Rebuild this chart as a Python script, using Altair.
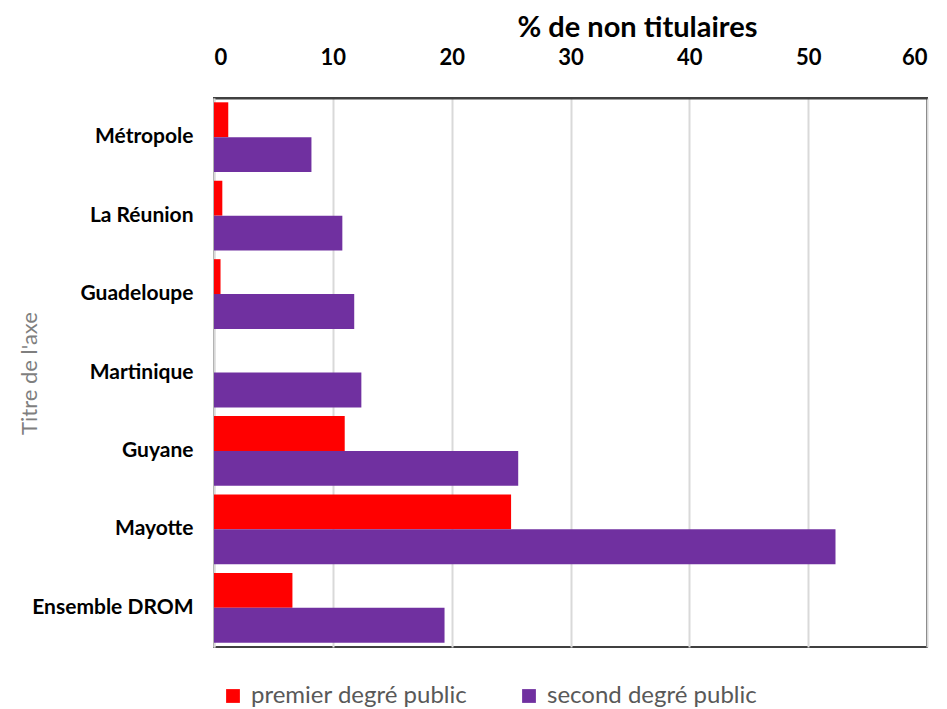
import altair as alt
import pandas as pd

categories = ["Métropole", "La Réunion", "Guadeloupe", "Martinique", "Guyane", "Mayotte", "Ensemble DROM"]
series_names = ["premier degré public", "second degré public"]
premier = [1.2, 0.7, 0.55, 0.0, 11.0, 25.0, 6.6]
second = [8.2, 10.8, 11.8, 12.4, 25.6, 52.3, 19.4]
x_ticks = [0, 10, 20, 30, 40, 50, 60]

rows = []
for c, p, s in zip(categories, premier, second):
    rows.append({"zone": c, "serie": series_names[0], "valeur": p})
    rows.append({"zone": c, "serie": series_names[1], "valeur": s})
df = pd.DataFrame(rows)

FONT = "Lato"

bars = alt.Chart(df).mark_bar().encode(
    x=alt.X(
        "valeur:Q",
        scale=alt.Scale(domain=[0, 60], nice=False, zero=True),
        axis=alt.Axis(
            orient="top",
            values=x_ticks,
            title="% de non titulaires",
            titleFont=FONT,
            titleFontSize=29,
            titleFontWeight="bold",
            titleColor="#000000",
            titleX=423,
            titleY=-62,
            titleAlign="center",
            titleBaseline="alphabetic",
            labelFont=FONT,
            labelFontSize=22,
            labelFontWeight="bold",
            labelColor="#000000",
            labelPadding=29,
            ticks=False,
            domain=True,
            domainColor="#404040",
            domainWidth=2,
            grid=True,
            gridColor="#d9d9d9",
            gridWidth=2,
        ),
    ),
    y=alt.Y(
        "zone:N",
        sort=categories,
        scale=alt.Scale(paddingInner=0.11, paddingOuter=0.055),
        axis=alt.Axis(
            title="Titre de l'axe",
            titleFont=FONT,
            titleFontSize=22,
            titleFontWeight="normal",
            titleColor="#7f7f7f",
            titleAngle=270,
            titleX=-185,
            titleY=275,
            titleAlign="center",
            titleBaseline="middle",
            labelFont=FONT,
            labelFontSize=21,
            labelFontWeight="bold",
            labelColor="#000000",
            labelPadding=21,
            labelLimit=300,
            ticks=False,
            domain=True,
            domainColor="#d9d9d9",
            domainWidth=2,
        ),
    ),
    yOffset=alt.YOffset("serie:N", sort=series_names),
    color=alt.Color(
        "serie:N",
        sort=series_names,
        scale=alt.Scale(domain=series_names, range=["#ff0000", "#7030a0"]),
        legend=alt.Legend(
            title=None,
            orient="none",
            direction="horizontal",
            legendX=7,
            legendY=586,
            symbolType="square",
            symbolSize=190,
            symbolStrokeWidth=0,
            labelFont=FONT,
            labelFontSize=24,
            labelColor="#595959",
            labelOffset=6,
            labelLimit=400,
            columnPadding=49,
            padding=0,
        ),
    ),
)

chart = bars.properties(
    width=713,
    height=549,
    autosize=alt.AutoSizeParams(type="none"),
    padding={"left": 206, "top": 90, "right": 12, "bottom": 60},
    background="#ffffff",
).configure_view(
    stroke="#404040",
    strokeWidth=2,
)

chart.save("out.html", embed_options={"renderer": "svg", "actions": False})
